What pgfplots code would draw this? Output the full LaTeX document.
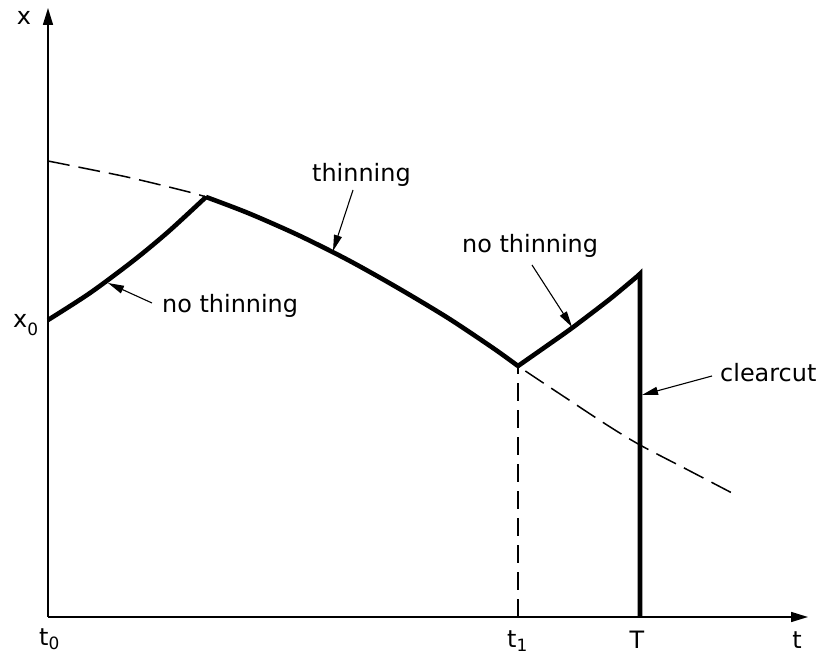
\documentclass[border=0pt]{standalone}
\usepackage{fontspec}
\setmainfont{DejaVu Sans}
\usepackage{pgfplots}
\pgfplotsset{compat=1.18}
\usetikzlibrary{arrows.meta}

\newcommand\lbl{\fontsize{24}{28}\selectfont}
\newcommand\sub[2][0.33em]{\raisebox{-#1}{\fontsize{17}{17}\selectfont #2}}

\begin{document}
\begin{tikzpicture}
\begin{axis}[
  x=1bp, y=1bp,
  xmin=0, xmax=760, ymin=0, ymax=609,
  enlargelimits=false,
  axis lines=left,
  axis line style={line width=1.5bp, -{Triangle[length=17bp,width=10bp]}},
  xtick=\empty, ytick=\empty,
  clip=false,
]
% unthinned trajectory (dashed reference path)
\addplot[black, line width=1.5bp, dash pattern=on 22bp off 9bp, smooth, tension=0.5]
  coordinates {(0,456) (30,450) (79,440) (129,428) (158,420) (200,404) (250,382)
               (300,357) (350,329) (400,299) (445,269) (470,251) (515,221)
               (559,192) (592,172) (640,147) (684,124)};
% t1 marker
\addplot[black, line width=1.2bp, dash pattern=on 18bp off 9bp]
  coordinates {(470,0) (470,251)};
% first no-thinning phase
\addplot[black, line width=4.6bp, smooth, tension=0.5]
  coordinates {(0,297) (42,324) (85,356) (120,385) (158,420)};
% thinning phase
\addplot[black, line width=4.6bp, smooth, tension=0.5]
  coordinates {(158,420) (200,404) (250,382) (300,357) (350,329) (400,299) (445,269) (470,251)};
% second no-thinning phase and clearcut
\addplot[black, line width=4.6bp, smooth, tension=0.4]
  coordinates {(470,251) (500,272) (524,289) (562,318) (592,343)};
\addplot[black, line width=4.6bp, line join=miter]
  coordinates {(590,341) (592,343) (592,0)};

% annotations
\node[anchor=base west, inner sep=0pt] at (axis cs:264,435) {\lbl thinning};
\draw[line width=1.1bp, -{Triangle[length=16bp,width=8bp]}] (axis cs:305,427) -- (axis cs:285,366);
\node[anchor=base west, inner sep=0pt] at (axis cs:114,304) {\lbl no thinning};
\draw[line width=1.1bp, -{Triangle[length=16bp,width=8bp]}] (axis cs:104,314) -- (axis cs:60,334);
\node[anchor=base west, inner sep=0pt] at (axis cs:414,364) {\lbl no thinning};
\draw[line width=1.1bp, -{Triangle[length=16bp,width=8bp]}] (axis cs:484,352) -- (axis cs:524,290);
\node[anchor=base west, inner sep=0pt] at (axis cs:672,235) {\lbl clearcut};
\draw[line width=1.1bp, -{Triangle[length=16bp,width=8bp]}] (axis cs:664,241) -- (axis cs:594,222);

% axis names and marked values
\node[anchor=base, inner sep=0pt] at (axis cs:-24,592) {\lbl x};
\node[anchor=base west, inner sep=0pt] at (axis cs:-35,289) {\lbl x\sub{0}};
\node[anchor=base west, inner sep=0pt] at (axis cs:-9,-29) {\lbl t\sub[0.15em]{0}};
\node[anchor=base west, inner sep=0pt] at (axis cs:459,-31) {\lbl t\sub[0.15em]{1}};
\node[anchor=base, inner sep=0pt] at (axis cs:589,-32) {\lbl T};
\node[anchor=base, inner sep=0pt] at (axis cs:749,-32) {\lbl t};

\coordinate (bl) at (axis cs:-48,-37);
\coordinate (tr) at (axis cs:770,617);
\end{axis}
\pgfresetboundingbox
\useasboundingbox (bl) rectangle (tr);
\end{tikzpicture}
\end{document}
